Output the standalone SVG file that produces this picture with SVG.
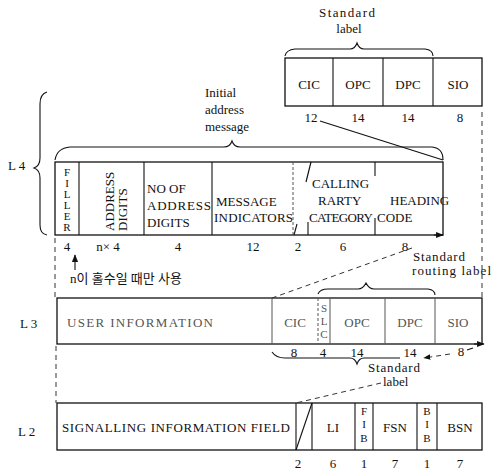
<svg xmlns="http://www.w3.org/2000/svg" width="493" height="473" viewBox="0 0 493 473" font-family="'Liberation Serif','Times New Roman','Noto Sans CJK KR',serif">
<style>
text{font-family:'Liberation Serif','Times New Roman','Noto Sans CJK KR',serif;fill:#111;font-size:13px}
.m{text-anchor:middle}
.g{fill:#555}
.box{fill:none;stroke:#111;stroke-width:1.3}
.ln{fill:none;stroke:#111;stroke-width:1.1}
.d{fill:none;stroke:#333;stroke-width:1;stroke-dasharray:5 4}
.lg{fill:none;stroke:#555;stroke-width:1}
.num{font-size:13px;text-anchor:middle}
.v{font-size:11px;text-anchor:middle}
</style>
<defs>
<marker id="ah" viewBox="0 0 10 10" refX="9" refY="5" markerWidth="7" markerHeight="7" orient="auto-start-reverse"><path d="M0,1 L10,5 L0,9 z" fill="#111"/></marker>
</defs>
<rect width="493" height="473" fill="#fff"/>

<!-- Standard label block -->
<g id="std-label-top">
<text x="347" y="17" class="m" textLength="56" lengthAdjust="spacing">Standard</text>
<text x="349" y="33" class="m">label</text>
<path class="ln" d="M285,56 Q286,50 295,49 L350,49 Q355,49 357,43 Q359,49 364,49 L425,49 Q433,50 433,56"/>
<rect class="box" x="285" y="58" width="197" height="48"/>
<line class="ln" x1="333" y1="58" x2="333" y2="106"/>
<line class="ln" x1="383" y1="58" x2="383" y2="106"/>
<line class="ln" x1="433" y1="58" x2="433" y2="106"/>
<text x="309" y="89" class="m">CIC</text>
<text x="358" y="89" class="m">OPC</text>
<text x="408" y="89" class="m">DPC</text>
<text x="458" y="89" class="m">SIO</text>
<text x="311" y="122" class="num">12</text>
<text x="358" y="122" class="num">14</text>
<text x="408" y="122" class="num">14</text>
<text x="460" y="122" class="num">8</text>
</g>

<!-- L4 -->
<g id="L4">
<text x="8" y="170">L 4</text>
<path class="ln" d="M47,92 Q40,94 40,104 L40,158 Q40,166 34,168 Q40,170 40,178 L40,225 Q40,234 47,235"/>
<text x="205" y="97">Initial</text>
<text x="205" y="114">address</text>
<text x="205" y="131">message</text>
<path class="ln" d="M55,160 Q57,148 70,147 L224,147 Q230,147 232,141 Q234,147 240,147 L432,147 Q443,148 443,160"/>
<rect class="box" x="55" y="162" width="388" height="73"/>
<line class="ln" x1="79" y1="162" x2="79" y2="235"/>
<line class="ln" x1="144" y1="162" x2="144" y2="235"/>
<line class="ln" x1="212" y1="162" x2="212" y2="235"/>
<line class="lg" x1="293" y1="162" x2="293" y2="235" stroke-dasharray="3 2"/>
<line class="ln" x1="311" y1="162" x2="306" y2="182"/>
<line class="ln" x1="308" y1="222" x2="308" y2="235"/>
<line class="ln" x1="294" y1="235" x2="297" y2="224"/>
<line class="ln" x1="375" y1="162" x2="375" y2="176"/>
<line class="ln" x1="375" y1="218" x2="375" y2="235"/>
<text class="v" x="67" y="176">F<tspan x="67" dy="11">I</tspan><tspan x="67" dy="11">L</tspan><tspan x="67" dy="11">L</tspan><tspan x="67" dy="11">E</tspan><tspan x="67" dy="11">R</tspan></text>
<text transform="translate(114,231) rotate(-90)">ADDRESS</text>
<text transform="translate(127,231) rotate(-90)">DIGITS</text>
<text x="147" y="193">NO  OF</text>
<text x="147" y="210" textLength="64" lengthAdjust="spacing">ADDRESS</text>
<text x="147" y="227">DIGITS</text>
<text x="216" y="206">MESSAGE</text>
<text x="214" y="222" textLength="79" lengthAdjust="spacing">INDICATORS</text>
<text x="312" y="188">CALLING</text>
<text x="318" y="205">RARTY</text>
<text x="309" y="222" textLength="64" lengthAdjust="spacing">CATEGORY</text>
<text x="390" y="205">HEADING</text>
<text x="377" y="222">CODE</text>
<text x="67" y="251" class="num">4</text>
<text x="108" y="251" class="num">n× 4</text>
<text x="178" y="251" class="num">4</text>
<text x="253" y="251" class="num">12</text>
<text x="298" y="251" class="num">2</text>
<text x="343" y="251" class="num">6</text>
<text x="405" y="251" class="num">8</text>
<text x="70" y="283" font-size="12">n이 홀수일 때만 사용</text>
</g>

<!-- L3 -->
<g id="L3">
<text x="20" y="328">L 3</text>
<text x="413" y="261" font-size="12" textLength="52" lengthAdjust="spacing">Standard</text>
<text x="412" y="275" font-size="12" textLength="79" lengthAdjust="spacing">routing label</text>
<path class="ln" d="M318,294 Q320,289 328,289 L358,289 Q363,289 366,283 Q369,289 374,289 L428,289 Q435,290 435,295"/>
<rect class="box" x="57" y="298" width="425" height="46" stroke="#444"/>
<line class="lg" x1="272" y1="298" x2="272" y2="344"/>
<line class="lg" x1="318" y1="298" x2="318" y2="344" stroke-dasharray="3 2"/>
<line class="lg" x1="330" y1="298" x2="330" y2="344"/>
<line class="lg" x1="385" y1="298" x2="385" y2="344"/>
<line class="lg" x1="435" y1="298" x2="435" y2="344"/>
<text x="140" y="327" class="m g" textLength="146" lengthAdjust="spacing">USER  INFORMATION</text>
<text x="295" y="327" class="m g">CIC</text>
<text class="v g" x="324" y="312">S<tspan x="324" dy="13">L</tspan><tspan x="324" dy="13">C</tspan></text>
<text x="357" y="327" class="m g">OPC</text>
<text x="410" y="327" class="m g">DPC</text>
<text x="458" y="327" class="m g">SIO</text>
<text x="294" y="357" class="num">8</text>
<text x="323" y="357" class="num">4</text>
<text x="357" y="357" class="num">14</text>
<text x="410" y="357" class="num">14</text>
<text x="461" y="356" class="num">8</text>
<path class="ln" d="M272,352 Q276,358 285,358 L350,358 Q355,358 357,364 Q359,358 364,358 L400,358"/>
<text x="368" y="372" font-size="12" textLength="52" lengthAdjust="spacing">Standard</text>
<text x="383" y="386" font-size="12">label</text>
</g>

<!-- L2 -->
<g id="L2">
<text x="18" y="436">L 2</text>
<rect class="box" x="57" y="403" width="425" height="47"/>
<line class="ln" x1="296" y1="403" x2="296" y2="450"/>
<line class="ln" x1="312" y1="403" x2="312" y2="450"/>
<line class="ln" x1="296" y1="450" x2="312" y2="403"/>
<line class="ln" x1="355" y1="403" x2="355" y2="450"/>
<line class="ln" x1="373" y1="403" x2="373" y2="450"/>
<line class="ln" x1="417" y1="403" x2="417" y2="450"/>
<line class="ln" x1="437" y1="403" x2="437" y2="450"/>
<text x="176" y="432" class="m" textLength="228" lengthAdjust="spacing">SIGNALLING INFORMATION FIELD</text>
<text x="333" y="432" class="m">LI</text>
<text class="v" x="364" y="415">F<tspan x="364" dy="13">I</tspan><tspan x="364" dy="14">B</tspan></text>
<text x="395" y="432" class="m">FSN</text>
<text class="v" x="427" y="415">B<tspan x="427" dy="13">I</tspan><tspan x="427" dy="14">B</tspan></text>
<text x="460" y="432" class="m">BSN</text>
<text x="298" y="468" class="num">2</text>
<text x="333" y="468" class="num">6</text>
<text x="364" y="468" class="num">1</text>
<text x="395" y="468" class="num">7</text>
<text x="427" y="468" class="num">1</text>
<text x="460" y="468" class="num">7</text>
</g>

<!-- connectors -->
<g id="connectors">
<line class="ln" x1="320" y1="121" x2="443" y2="160"/>
<line class="d" x1="482" y1="112" x2="482" y2="298"/>
<line class="d" x1="55" y1="238" x2="55" y2="298"/>
<line class="d" x1="56" y1="346" x2="56" y2="403"/>
<line class="ln" x1="75" y1="270" x2="75" y2="255" marker-end="url(#ah)"/>
<line class="d" x1="412" y1="248" x2="272" y2="298"/>
<line class="ln" x1="434" y1="235" x2="443" y2="235" marker-end="url(#ah)"/>
<line class="ln" x1="474" y1="344" x2="484" y2="344" marker-end="url(#ah)"/>
<line class="d" x1="450" y1="354" x2="424" y2="358" marker-end="url(#ah)"/>
<line class="d" x1="381" y1="383" x2="296" y2="403"/>
<line class="ln" x1="467" y1="350" x2="473" y2="348"/>
</g>
</svg>
